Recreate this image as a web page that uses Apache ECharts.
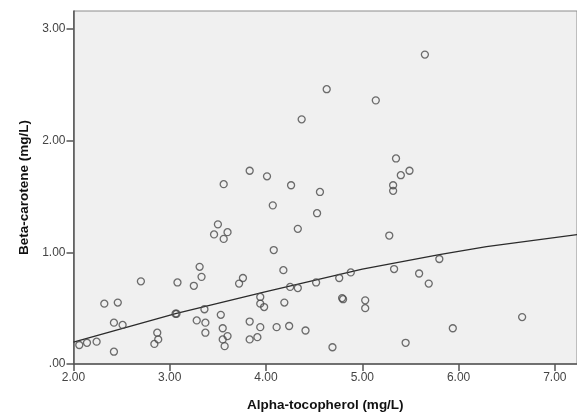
<!DOCTYPE html>
<html>
<head>
<meta charset="utf-8">
<script src="https://cdn.jsdelivr.net/npm/echarts@6/dist/echarts.min.js"></script>
<style>
  html, body { margin: 0; padding: 0; background: #ffffff; }
  #chart { width: 577px; height: 417px; }
</style>
</head>
<body>
<div id="chart"></div>
<script>
// Alpha-tocopherol (mg/L) per subject
const alphaToco = [
  2.06, 2.14, 2.24, 2.32, 2.46, 2.42, 2.51, 2.42, 2.70, 2.87,
  2.88, 2.84, 3.06, 3.07, 3.08, 3.25, 3.31, 3.33, 3.28, 3.36,
  3.37, 3.37, 3.53, 3.55, 3.60, 3.55, 3.57, 3.72, 3.76, 4.08,
  4.18, 3.94, 3.94, 3.98, 4.19, 4.25, 4.33, 3.83, 3.94, 4.11,
  4.24, 4.41, 3.83, 3.91, 4.69, 5.45, 5.94, 6.66, 4.79, 4.80,
  5.03, 5.03, 4.52, 4.76, 4.88, 5.33, 5.59, 5.69, 5.80, 5.28,
  4.63, 5.14, 4.37, 5.35, 5.49, 5.40, 5.32, 5.32, 3.83, 4.01,
  4.26, 4.56, 4.07, 4.53, 4.33, 3.56, 3.50, 3.46, 3.60, 3.56,
  5.65
];
// Beta-carotene (mg/L) per subject, same order
const betaCarot = [
  0.17, 0.19, 0.20, 0.54, 0.55, 0.37, 0.35, 0.11, 0.74, 0.28,
  0.22, 0.18, 0.45, 0.45, 0.73, 0.70, 0.87, 0.78, 0.39, 0.49,
  0.37, 0.28, 0.44, 0.32, 0.25, 0.22, 0.16, 0.72, 0.77, 1.02,
  0.84, 0.60, 0.54, 0.51, 0.55, 0.69, 0.68, 0.38, 0.33, 0.33,
  0.34, 0.30, 0.22, 0.24, 0.15, 0.19, 0.32, 0.42, 0.59, 0.58,
  0.57, 0.50, 0.73, 0.77, 0.82, 0.85, 0.81, 0.72, 0.94, 1.15,
  2.46, 2.36, 2.19, 1.84, 1.73, 1.69, 1.60, 1.55, 1.73, 1.68,
  1.60, 1.54, 1.42, 1.35, 1.21, 1.61, 1.25, 1.16, 1.18, 1.12,
  2.77
];
// Fitted curve (quadratic) sampled along the x range
const fitX = [2.00, 3.06, 4.00, 5.00, 5.80, 6.29, 7.25];
const fitY = [0.195, 0.452, 0.648, 0.85, 0.98, 1.05, 1.16];

const xTicks = { 2: '2.00', 3: '3.00', 4: '4.00', 5: '5.00', 6: '6.00', 7: '7.00' };
const yTicks = { 0: '.00', 1: '1.00', 2: '2.00', 3: '3.00' };

const points = alphaToco.map((x, i) => [x, betaCarot[i]]);
const fitLine = fitX.map((x, i) => [x, fitY[i]]);

const chart = echarts.init(document.getElementById('chart'), null, { renderer: 'canvas' });
chart.setOption({
  animation: false,
  backgroundColor: '#ffffff',
  grid: {
    left: 73.5, right: 0, top: 11, bottom: 49.3,
    show: true, backgroundColor: '#f0f0f0', borderColor: '#8c8c8c', borderWidth: 1
  },
  xAxis: {
    type: 'value', min: 2, max: 7.23, interval: 1,
    name: 'Alpha-tocopherol (mg/L)', nameLocation: 'middle', nameGap: 34,
    nameTextStyle: { fontFamily: 'Liberation Sans', fontWeight: 'bold', fontSize: 13.5, color: '#111' },
    axisLine: { show: true, onZero: false, lineStyle: { color: '#555', width: 1.5 } },
    axisTick: { show: true, inside: false, length: 7, lineStyle: { color: '#555', width: 1.5 } },
    axisLabel: {
      margin: 8, fontFamily: 'Liberation Sans', fontSize: 12, color: '#444',
      formatter: v => xTicks[Math.round(v)] || '', showMaxLabel: false
    },
    splitLine: { show: false }
  },
  yAxis: {
    type: 'value', min: 0, max: 3.16, interval: 1,
    name: 'Beta-carotene (mg/L)', nameLocation: 'middle', nameGap: 40, nameRotate: 90,
    nameTextStyle: { fontFamily: 'Liberation Sans', fontWeight: 'bold', fontSize: 13.5, color: '#111' },
    axisLine: { show: true, onZero: false, lineStyle: { color: '#555', width: 1.5 } },
    axisTick: { show: true, inside: false, length: 7, lineStyle: { color: '#555', width: 1.5 } },
    axisLabel: {
      margin: 8, fontFamily: 'Liberation Sans', fontSize: 12, color: '#444',
      formatter: v => yTicks[Math.round(v)] || '', showMaxLabel: false
    },
    splitLine: { show: false }
  },
  series: [
    {
      type: 'line', data: fitLine, smooth: false, symbol: 'none', z: 2,
      lineStyle: { color: '#2b2b2b', width: 1.3 }
    },
    {
      type: 'scatter', data: points, symbol: 'circle', symbolSize: 7, z: 3,
      itemStyle: { color: 'rgba(0,0,0,0)', borderColor: '#4a4a4a', borderWidth: 1.3 }
    }
  ]
});
</script>
</body>
</html>
